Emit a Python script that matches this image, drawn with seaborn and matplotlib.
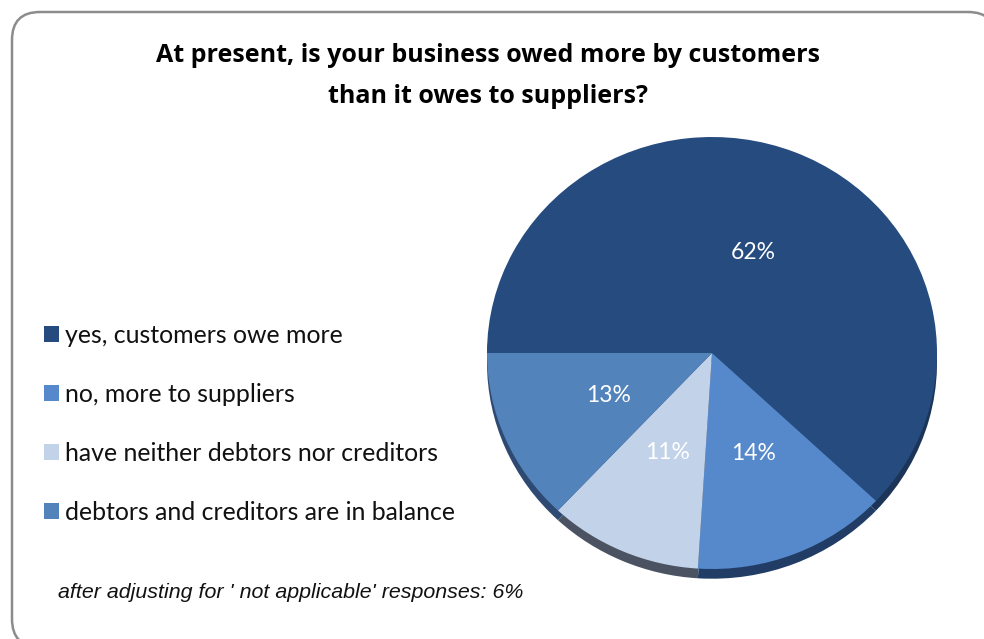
import matplotlib
matplotlib.use("Agg")
import matplotlib.pyplot as plt
from matplotlib.patches import FancyBboxPatch
import seaborn as sns

# Survey answers and their shares (%)
categories = [
    "yes, customers owe more",
    "no, more to suppliers",
    "have neither debtors nor creditors",
    "debtors and creditors are in balance",
]
shares = [62, 14, 11, 13]
colors = ["#264b7f", "#5589cb", "#c2d2e8", "#5283bb"]
rim_colors = ["#1b3457", "#213d66", "#4b5363", "#2f4a72"]
title_lines = ["At present, is your business owed more by customers",
               "than it owes to suppliers?"]
footnote = "after adjusting for ' not applicable' responses: 6%"

sns.set_theme(style="white")
plt.rcParams["font.family"] = ["Lato", "DejaVu Sans"]

W, H = 984, 639
fig = plt.figure(figsize=(W / 100, H / 100), dpi=100)
fig.patch.set_facecolor("white")

# Background layer in pixel coordinates: rounded frame, title, footnote
bg = fig.add_axes([0, 0, 1, 1])
bg.set_xlim(0, W)
bg.set_ylim(H, 0)
bg.axis("off")
frame = FancyBboxPatch((12, 12), 984, 635,
                       boxstyle="round,pad=0,rounding_size=28",
                       fc="white", ec="#8c8c8c", lw=1.8)
bg.add_patch(frame)
for y, line in zip([62, 103], title_lines):
    bg.text(488, y, line, ha="center", va="baseline", fontsize=18,
            fontweight="bold", color="black",
            family=["Open Sans", "DejaVu Sans"])
bg.text(58, 592, footnote, ha="left", va="center", fontsize=15.4,
        style="italic", family=["Liberation Sans", "DejaVu Sans"], color="#111111")

# Pie layer
cx, cy, rx, ry = 712, 353, 225, 216
ax = fig.add_axes([(cx - rx) / W, (H - cy - ry) / H, 2 * rx / W, 2 * ry / H])
ax.pie(shares, colors=rim_colors, startangle=180, counterclock=False,
       center=(0, -0.045), wedgeprops=dict(linewidth=0))
wedges, _, autotexts = ax.pie(
    shares, colors=colors, startangle=180, counterclock=False,
    autopct=lambda p: f"{p:.0f}%", pctdistance=0.5,
    wedgeprops=dict(linewidth=0),
    textprops=dict(color="white", fontsize=16.5),
)
ax.set_aspect("auto")
ax.set_xlim(-1, 1)
ax.set_ylim(-1, 1)
ax.axis("off")

fig.legend(wedges, categories, loc="upper left",
           bbox_to_anchor=(44 / W, 1 - 324 / H), frameon=False,
           fontsize=17.9, handlelength=0.6, handleheight=0.6,
           handletextpad=0.25, labelspacing=1.45, borderaxespad=0,
           borderpad=0, labelcolor="#111111")

fig.savefig("out.png", dpi=100, facecolor="white")
